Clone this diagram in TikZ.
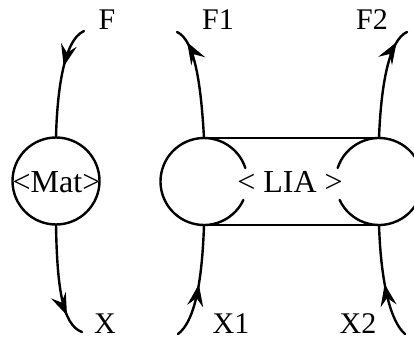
\documentclass[tikz,border=0pt]{standalone}
\usepackage{fontspec}
\setmainfont{Liberation Serif}
\usetikzlibrary{arrows.meta,decorations.markings}
\tikzset{
  conn/.style={line width=2.4pt, line cap=round},
  ring/.style={circle, minimum size=87pt, inner sep=0pt, outer sep=0pt},
  bigtxt/.style={font=\fontsize{32}{36}\selectfont, inner sep=0pt, anchor=base},
  lbl/.style={font=\fontsize{30}{34}\selectfont, inner sep=0pt, anchor=base},
  arrout/.style={postaction={decorate}, decoration={markings,
      mark=at position #1 with {\arrow{Stealth[length=22pt,width=16pt,inset=8pt]}}}},
  arrin/.style={postaction={decorate}, decoration={markings,
      mark=at position #1 with {\arrowreversed{Stealth[length=22pt,width=16pt,inset=8pt]}}}}
}
\begin{document}
\begin{tikzpicture}[x=1pt,y=1pt]
\useasboundingbox (0,0) rectangle (414,338);
% Mat
\node[ring, draw, line width=2.4pt] (mat) at (56,157) {};
\node[bigtxt] (mattxt) at (56.5,146) {<Mat>};
% LIA
\node[ring] (L) at (204,156.5) {};
\node[ring] (R) at (379,156.5) {};
\draw[conn] (L.18) arc[start angle=18, end angle=335, radius=43.5];
\draw[conn] (R.205) arc[start angle=205, end angle=522, radius=43.5];
\draw[conn] (L.north) -- (R.north);
\draw[conn] (L.south) -- (R.south);
\node[bigtxt] (lia) at (290,146) {< LIA >};
% free ends
\coordinate (fE) at (84,307);
\coordinate (xE) at (82,6);
\coordinate (f1E) at (177,306);
\coordinate (f2E) at (407,306);
\coordinate (x1E) at (178,4);
\coordinate (x2E) at (405,4);
% connectors
\draw[conn, arrin=0.63] (mat.north) .. controls (57,243) and (63,298) .. (fE);
\draw[conn, arrout=0.8] (mat.south) .. controls (57,53) and (62,13) .. (xE);
\draw[conn, arrout=0.87] (L.north) .. controls (201,253) and (195,298) .. (f1E);
\draw[conn, arrout=0.87] (R.north) .. controls (381,253) and (389,298) .. (f2E);
\draw[conn, arrin=0.52] (L.south) .. controls (202,53) and (194,16) .. (x1E);
\draw[conn, arrin=0.52] (R.south) .. controls (381,53) and (391,16) .. (x2E);
% labels
\node[lbl] (F) at (107,308) {F};
\node[lbl] (F1) at (218,308) {F1};
\node[lbl] (F2) at (372,308) {F2};
\node[lbl] (X) at (105,5) {X};
\node[lbl] (X1) at (231,5) {X1};
\node[lbl] (X2) at (358,5) {X2};
\end{tikzpicture}
\end{document}
